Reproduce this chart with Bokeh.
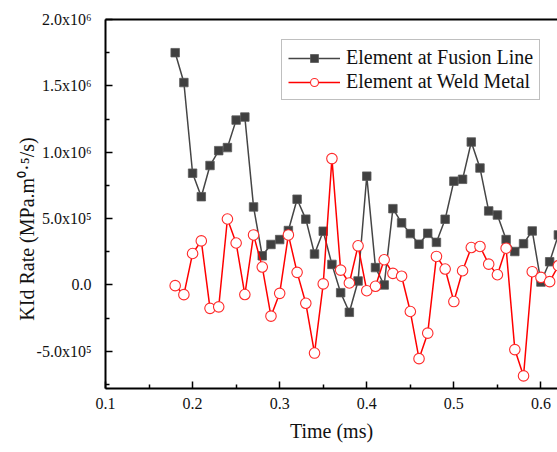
from bokeh.plotting import figure
from bokeh.models import (Range1d, FixedTicker, CustomJSTickFormatter, LinearAxis,
                          Legend, NumeralTickFormatter)
from bokeh.embed import file_html
from bokeh.resources import INLINE

# ---------------- data ----------------
time_ms = [0.18, 0.19, 0.20, 0.21, 0.22, 0.23, 0.24, 0.25, 0.26, 0.27,
           0.28, 0.29, 0.30, 0.31, 0.32, 0.33, 0.34, 0.35, 0.36, 0.37,
           0.38, 0.39, 0.40, 0.41, 0.42, 0.43, 0.44, 0.45, 0.46, 0.47,
           0.48, 0.49, 0.50, 0.51, 0.52, 0.53, 0.54, 0.55, 0.56, 0.57,
           0.58, 0.59, 0.60, 0.61, 0.62]

fusion_line = [1.75e6, 1.525e6, 0.842e6, 0.665e6, 0.90e6, 1.012e6, 1.035e6, 1.242e6, 1.265e6, 0.588e6,
               0.22e6, 0.305e6, 0.342e6, 0.41e6, 0.646e6, 0.496e6, 0.233e6, 0.405e6, 0.155e6, -0.058e6,
               -0.206e6, 0.03e6, 0.82e6, 0.131e6, 0.0, 0.575e6, 0.468e6, 0.387e6, 0.307e6, 0.389e6,
               0.321e6, 0.495e6, 0.782e6, 0.796e6, 1.077e6, 0.881e6, 0.558e6, 0.527e6, 0.342e6, 0.252e6,
               0.311e6, 0.407e6, 0.022e6, 0.175e6, 0.377e6]

weld_metal = [-0.005e6, -0.073e6, 0.237e6, 0.332e6, -0.176e6, -0.165e6, 0.497e6, 0.316e6, -0.072e6, 0.377e6,
              0.135e6, -0.235e6, -0.063e6, 0.377e6, 0.095e6, -0.138e6, -0.513e6, 0.008e6, 0.952e6, 0.112e6,
              0.015e6, 0.295e6, -0.043e6, -0.01e6, 0.19e6, 0.087e6, 0.066e6, -0.2e6, -0.555e6, -0.363e6,
              0.215e6, 0.12e6, -0.125e6, 0.107e6, 0.282e6, 0.29e6, 0.157e6, 0.077e6, 0.277e6, -0.487e6,
              -0.685e6, 0.1e6, 0.057e6, 0.025e6, 0.145e6]

x_ticks = [0.1, 0.2, 0.3, 0.4, 0.5, 0.6]
x_minor_ticks = [0.15, 0.25, 0.35, 0.45, 0.55]
y_ticks = [-5.0e5, 0.0, 5.0e5, 1.0e6, 1.5e6, 2.0e6]
y_tick_labels = ["-5.0x10\u2075", "0.0", "5.0x10\u2075", "1.0x10\u2076", "1.5x10\u2076", "2.0x10\u2076"]
y_minor_ticks = [-7.5e5, -2.5e5, 2.5e5, 7.5e5, 1.25e6, 1.75e6]

series_names = ["Element at Fusion Line", "Element at Weld Metal"]
x_title = "Time (ms)"
y_title = "KId Rate (MPa.m\u2070\u00b7\u2075/s)"

FONT = "Liberation Serif"

# ---------------- figure ----------------
p = figure(width=557, height=452, output_backend="svg", toolbar_location=None,
           x_range=Range1d(0.1, 0.619), y_range=Range1d(-7.8e5, 2.0e6),
           min_border_left=105, min_border_right=0, min_border_top=19, min_border_bottom=64)
p.outline_line_color = None
p.grid.visible = False
p.background_fill_color = "white"
p.border_fill_color = "white"

for ax in (p.xaxis[0], p.yaxis[0]):
    ax.axis_line_width = 2
    ax.axis_line_color = "black"
    ax.major_tick_in = 7
    ax.major_tick_out = 0
    ax.minor_tick_in = 4
    ax.minor_tick_out = 0
    ax.major_tick_line_width = 1.5
    ax.minor_tick_line_width = 1.5
    ax.major_tick_line_color = "black"
    ax.minor_tick_line_color = "black"
    ax.major_label_text_font = FONT
    ax.major_label_text_font_size = "16px"
    ax.major_label_text_color = "#111111"
    ax.axis_label_text_font = FONT
    ax.axis_label_text_font_style = "normal"
    ax.axis_label_text_font_size = "20px"
    ax.axis_label_text_color = "#111111"

xa = p.xaxis[0]
xa.ticker = FixedTicker(ticks=x_ticks, minor_ticks=x_minor_ticks)
xa.formatter = NumeralTickFormatter(format="0.0")
xa.major_label_standoff = 9
xa.axis_label = x_title
xa.axis_label_standoff = 8

ya = p.yaxis[0]
ya.ticker = FixedTicker(ticks=y_ticks, minor_ticks=y_minor_ticks)
ya.formatter = CustomJSTickFormatter(args=dict(vals=y_ticks, labs=y_tick_labels), code="""
    for (let i = 0; i < vals.length; i++) {
        if (Math.abs(vals[i] - tick) < 1) { return labs[i]; }
    }
    return "";
""")
ya.major_label_standoff = 14
# trailing no-break spaces push the centred title downward, as in the original
ya.axis_label = y_title + "\u00a0" * 10
ya.axis_label_standoff = -4

top = LinearAxis(ticker=FixedTicker(ticks=[]), axis_line_width=2, axis_line_color="black",
                 major_tick_line_color=None, minor_tick_line_color=None,
                 major_label_text_font_size="0px")
p.add_layout(top, "above")

# ---------------- series ----------------
r1 = p.line(time_ms, fusion_line, line_color="#454545", line_width=1.5)
r1s = p.scatter(time_ms, fusion_line, marker="square", size=8.5,
                fill_color="#404040", line_color="#5a5a5a", line_width=0.8)
r2 = p.line(time_ms, weld_metal, line_color="#ff0000", line_width=1.5)
r2s = p.scatter(time_ms, weld_metal, marker="circle", size=10.5,
                fill_color="white", line_color="#ff2a2a", line_width=1.1)

legend = Legend(items=[(series_names[0], [r1, r1s]), (series_names[1], [r2, r2s])],
                location=(176, 288), orientation="vertical",
                label_text_font=FONT, label_text_font_size="20px", label_text_color="#111111",
                glyph_width=52, glyph_height=20, label_height=20, label_standoff=6,
                spacing=1, padding=6, margin=0,
                border_line_color="#808080", border_line_width=1.2,
                background_fill_color="white", background_fill_alpha=1.0)
p.add_layout(legend)

open("out.html", "w").write(file_html(p, INLINE))
